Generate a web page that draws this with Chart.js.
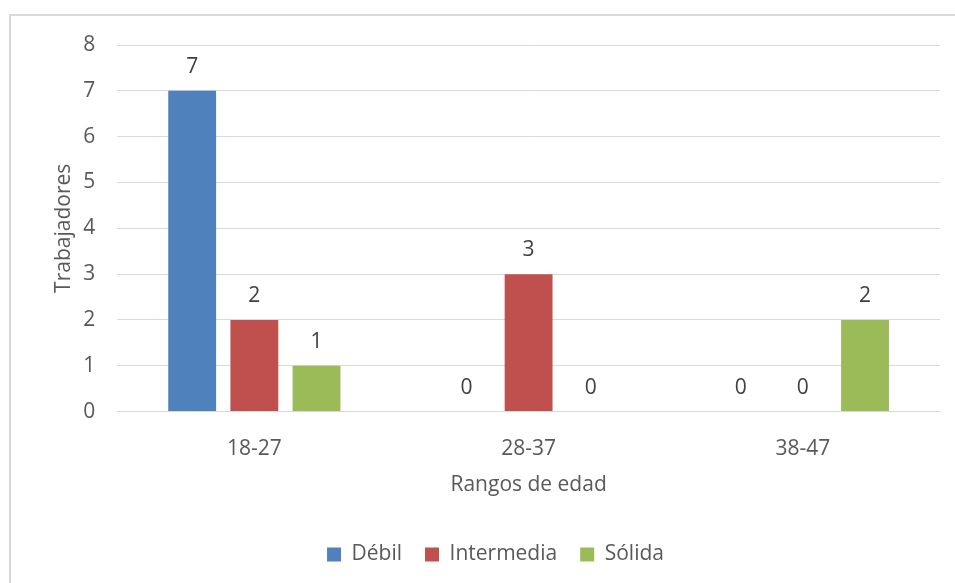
<!DOCTYPE html>
<html>
<head>
<meta charset="utf-8">
<script src="https://cdn.jsdelivr.net/npm/chart.js@4/dist/chart.umd.min.js"></script>
<style>
  html, body { margin: 0; padding: 0; background: #fff; }
  #wrap { position: relative; width: 955px; height: 583px; overflow: hidden; }
  #frame { position: absolute; left: 9px; top: 14px; width: 1000px; height: 700px;
           border-left: 2px solid #d9d9d9; border-top: 2px solid #d9d9d9; }
  canvas { position: absolute; left: 0; top: 0; }
</style>
</head>
<body>
<div id="wrap">
  <div id="frame"></div>
  <canvas id="chart" width="955" height="583"></canvas>
</div>
<script>
const categories = ['18-27', '28-37', '38-47'];
const debil = [7, 0, 0];
const intermedia = [2, 3, 0];
const solida = [1, 0, 2];
const yTicks = [0, 1, 2, 3, 4, 5, 6, 7, 8];

const textColor = '#595959';
const fontFamily = '"Open Sans", sans-serif';
const fontSize = 21;

// value labels above each bar (Excel style "outside end")
const valueLabels = {
  id: 'valueLabels',
  afterDatasetsDraw(chart) {
    const ctx = chart.ctx;
    ctx.save();
    ctx.fillStyle = '#404040';
    ctx.font = fontSize + 'px ' + fontFamily;
    ctx.textAlign = 'center';
    ctx.textBaseline = 'middle';
    chart.data.datasets.forEach((ds, i) => {
      const meta = chart.getDatasetMeta(i);
      meta.data.forEach((bar, j) => {
        ctx.fillText(String(ds.data[j]), bar.x, bar.y - 24);
      });
    });
    ctx.restore();
  }
};

new Chart(document.getElementById('chart'), {
  type: 'bar',
  data: {
    labels: categories,
    datasets: [
      { label: 'Débil', data: debil, backgroundColor: '#4f81bd' },
      { label: 'Intermedia', data: intermedia, backgroundColor: '#c0504d' },
      { label: 'Sólida', data: solida, backgroundColor: '#9bbb59' }
    ]
  },
  options: {
    responsive: false,
    animation: false,
    categoryPercentage: 0.68,
    barPercentage: 0.77,
    layout: { padding: { left: 51, right: 15, top: 45, bottom: 8 } },
    plugins: {
      legend: {
        position: 'bottom',
        labels: {
          boxWidth: 14, boxHeight: 14, padding: 23,
          color: textColor,
          font: { family: fontFamily, size: fontSize }
        }
      },
      tooltip: { enabled: false }
    },
    scales: {
      x: {
        grid: { display: false, drawTicks: false },
        border: { color: '#d9d9d9', width: 1 },
        ticks: { color: textColor, padding: 25, font: { family: fontFamily, size: fontSize } },
        title: { display: true, text: 'Rangos de edad', color: textColor,
                 font: { family: fontFamily, size: fontSize }, padding: { top: -14, bottom: 23 } }
      },
      y: {
        min: 0, max: 8,
        afterBuildTicks(axis) { axis.ticks = yTicks.map(v => ({ value: v })); },
        grid: { color: '#d9d9d9', drawTicks: false },
        border: { display: false },
        ticks: { color: textColor, padding: 22, font: { family: fontFamily, size: fontSize } },
        title: { display: true, text: 'Trabajadores', color: textColor,
                 font: { family: fontFamily, size: fontSize }, padding: { top: 0, bottom: -15 } }
      }
    }
  },
  plugins: [valueLabels]
});
</script>
</body>
</html>
